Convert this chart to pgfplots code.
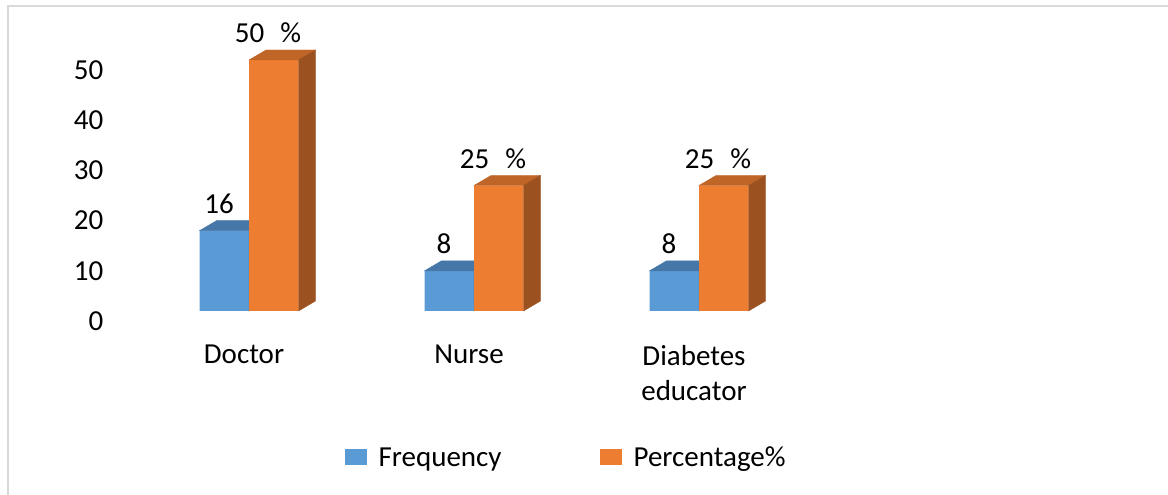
\documentclass[border=0pt]{standalone}
\usepackage{pgfplots}
\pgfplotsset{compat=1.18}
\usepackage{pgfplotstable}
\usepackage{fontspec}
\setmainfont{Carlito}

\definecolor{freqfront}{HTML}{5B9BD5}
\definecolor{freqtop}{HTML}{4677A8}
\definecolor{freqside}{HTML}{3E6A96}
\definecolor{pctfront}{HTML}{ED7D31}
\definecolor{pcttop}{HTML}{BF6528}
\definecolor{pctside}{HTML}{9C5220}
\definecolor{framegray}{HTML}{D9D9D9}

\pgfplotstableread{
x freq pct
0 16 50
1 8  25
2 8  25
}\roles

% top and side faces of a 3D bar, drawn at each data point
% #1 left edge, #2 right edge (relative to the category), #3 top colour, #4 side colour
\pgfplotsset{
  block3d/.style n args={4}{
    scatter, only marks, mark=*, mark size=0pt, forget plot,
    point meta=y,
    visualization depends on={rawy \as \barval},
    scatter/@pre marker code/.code={
      \pgfmathsetlengthmacro\hgt{\barval*5.02bp}
      \fill[#3] (#1,0bp) -- (#2,0bp) -- (#2+17bp,10bp) -- (#1+17bp,10bp) -- cycle;
      \fill[#4] (#2,0bp) -- (#2+17bp,10bp) -- (#2+17bp,10bp-\hgt) -- (#2,-\hgt) -- cycle;
      \begin{scope}[opacity=0]
    },
    scatter/@post marker code/.code={\end{scope}},
  },
}

\begin{document}
\begin{tikzpicture}[font=\fontsize{29bp}{35bp}\selectfont]
\path[use as bounding box] (0bp,0bp) rectangle (1168bp,495bp);
\draw[framegray, line width=2bp] (8bp,-20bp) -- (8bp,489bp) -- (1190bp,489bp);

\begin{axis}[
  at={(136.5bp,184bp)}, anchor=south west,
  x=225bp, y=5.02bp,
  xmin=-0.5, xmax=2.5, ymin=0, ymax=55,
  clip=false,
  clip marker paths=true,
  axis line style={draw=none},
  tick style={draw=none},
  xtick={0,1,2},
  xticklabels={Doctor, Nurse, {Diabetes\\educator}},
  xticklabel style={align=center, anchor=north, inner sep=0pt, xshift=-5bp, yshift=-34bp,
    font=\fontsize{29bp}{35bp}\selectfont},
  ytick={0,10,...,50},
  yticklabel style={anchor=east, inner sep=0pt, xshift=-33bp, yshift=-10bp},
  /pgf/number format/assume math mode=true,
  legend style={at={(0.308,-0.5306)}, anchor=west, legend columns=2,
    draw=none, fill=none, inner sep=0pt,
    font=\fontsize{29bp}{35bp}\selectfont,
    /tikz/every odd column/.append style={column sep=10bp},
    /tikz/every even column/.append style={column sep=96bp}},
  legend cell align=left,
]
% Frequency
\addplot[ybar, bar width=49.5bp, bar shift=-24.75bp, fill=freqfront, draw=none,
  nodes near coords,
  nodes near coords style={anchor=center, xshift=-30bp, yshift=27bp, text=black},
  legend image code/.code={\fill[freqfront] (0bp,-8bp) rectangle (22bp,8bp);}]
  table[x=x, y=freq] {\roles};
\addlegendentry{Frequency}
\addplot[block3d={-49.5bp}{0bp}{freqtop}{freqside}] table[x=x, y=freq] {\roles};
% Percentage
\addplot[ybar, bar width=49.5bp, bar shift=24.75bp, fill=pctfront, draw=none,
  nodes near coords={\pgfmathprintnumber{\pgfplotspointmeta}\hspace{0.55em}\%},
  nodes near coords style={anchor=center, xshift=19bp, yshift=27bp, text=black},
  legend image code/.code={\fill[pctfront] (0bp,-8bp) rectangle (22bp,8bp);}]
  table[x=x, y=pct] {\roles};
\addlegendentry{Percentage\%}
\addplot[block3d={0bp}{49.5bp}{pcttop}{pctside}] table[x=x, y=pct] {\roles};
\end{axis}
\end{tikzpicture}
\end{document}
